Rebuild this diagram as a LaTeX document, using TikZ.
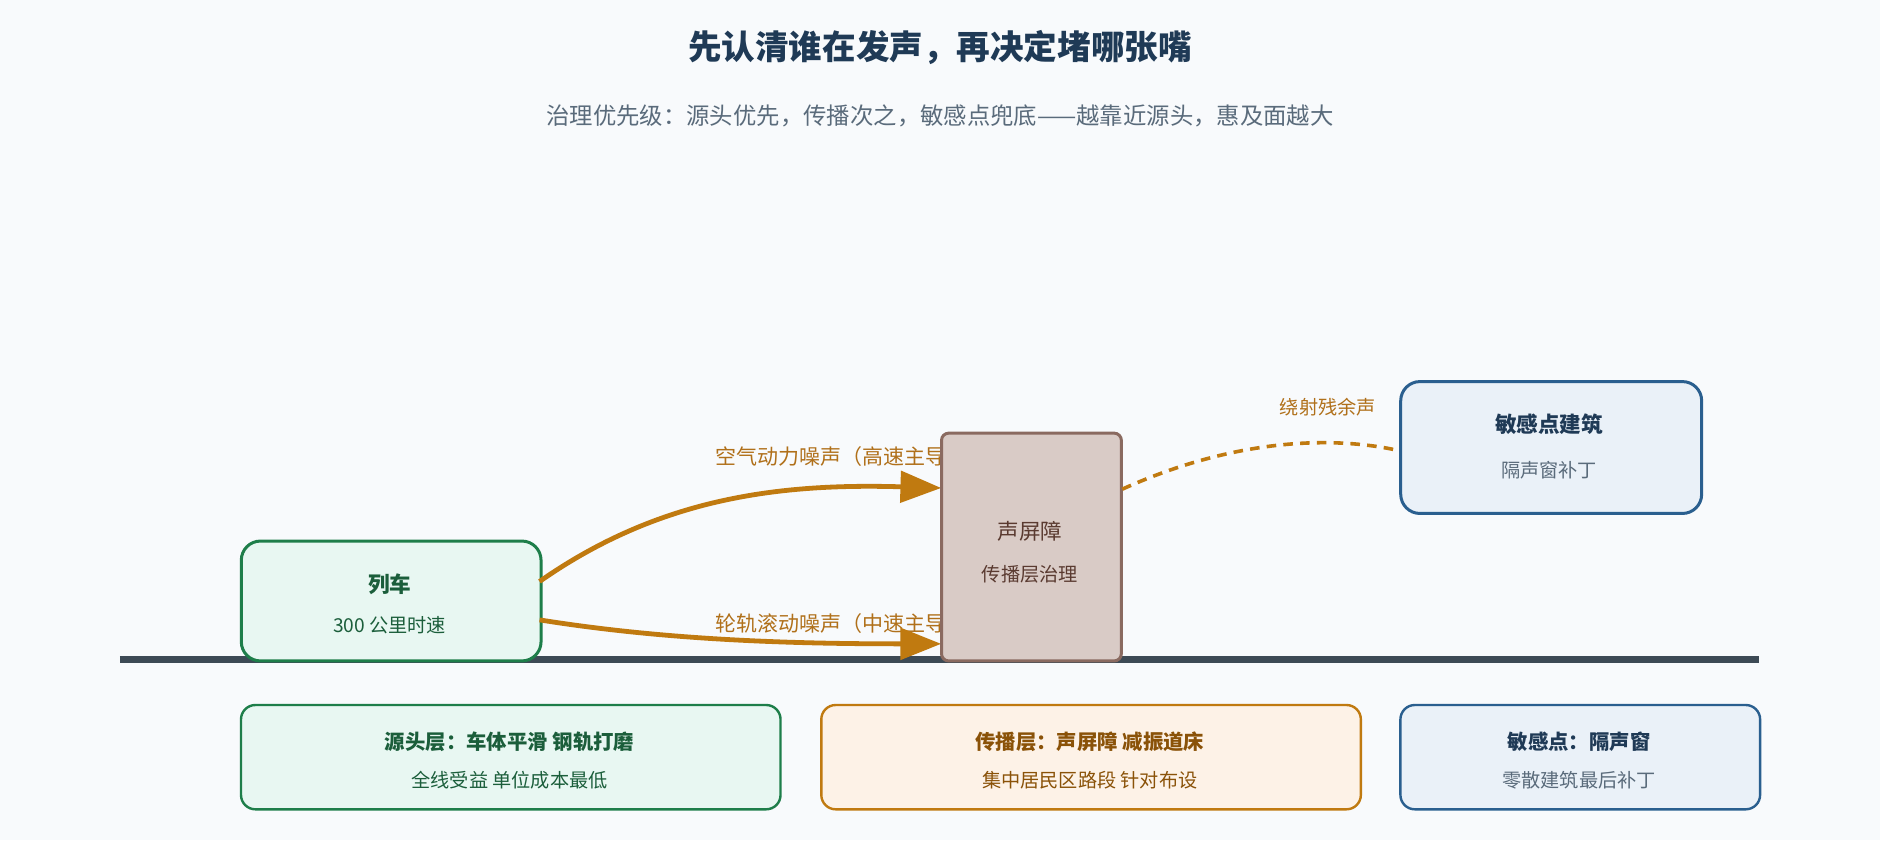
\documentclass[tikz,border=0pt]{standalone}
\usepackage{fontspec}
\setmainfont{Noto Sans CJK SC}
\usetikzlibrary{arrows.meta}
\definecolor{bg}{HTML}{F8FAFC}
\definecolor{ttl}{HTML}{1F3A56}
\definecolor{sub}{HTML}{5A6B7B}
\definecolor{gnd}{HTML}{3D4A55}
\definecolor{gS}{HTML}{1E7E4A}\definecolor{gF}{HTML}{E8F7F2}\definecolor{gT}{HTML}{1B5E3B}
\definecolor{oS}{HTML}{C07A10}\definecolor{oF}{HTML}{FDF2E7}\definecolor{oT}{HTML}{8A5208}
\definecolor{bS}{HTML}{2A5F8F}\definecolor{bF}{HTML}{EAF1F8}\definecolor{bT}{HTML}{1F3A56}
\definecolor{rS}{HTML}{8A6A60}\definecolor{rF}{HTML}{D9CBC6}\definecolor{rT}{HTML}{5A3A30}
\definecolor{lab}{HTML}{B0701A}
\begin{document}
\begin{tikzpicture}[x=1pt,y=-1pt,
 box/.style={draw,line width=2.5pt,rounded corners=16pt,anchor=north west,inner sep=0pt},
 t/.style={font=\fontsize{18}{21}\selectfont\bfseries},
 s/.style={font=\fontsize{16}{19}\selectfont},
 lb/.style={font=\fontsize{17.5}{20}\selectfont},
 arr/.style={oS,line width=4pt,-{Triangle[length=34pt,width=26pt]}}]
\fill[bg] (0,0) rectangle (1568,701);
\useasboundingbox (0,0) rectangle (1568,701);
\node[ttl,font=\fontsize{28}{32}\selectfont\bfseries] (title) at (784,40) {先认清谁在发声，再决定堵哪张嘴};
\node[sub,font=\fontsize{19.5}{23}\selectfont] (subtitle) at (784,97) {治理优先级：源头优先，传播次之，敏感点兜底——越靠近源头，惠及面越大};
\draw[gnd,line width=6pt] (100,550) coordinate (g1) -- (1467,550) coordinate (g2);
% labels (partly hidden behind barrier)
\node[lab,lb,anchor=west] (l1) at (593,381) {空气动力噪声（高速主导）};
\node[lab,lb,anchor=west] (l2) at (593,520) {轮轨滚动噪声（中速主导）};
\node[lab,s,anchor=east] (l3) at (1151,340) {绕射残余声};
% train
\node[box,draw=gS,fill=gF,minimum width=250pt,minimum height=100pt] (train) at (200,450) {};
\node[gT,t] (trainT) at (325,487) {列车};
\node[gT,s] (trainS) at (325,521) {300 公里时速};
% arrows
\coordinate (a1) at (450,485); \coordinate (b1) at (785,407);
\coordinate (a2) at (450,517); \coordinate (b2) at (785,537);
\draw[arr] (a1) .. controls (550,415) and (650,403) .. (b1);
\draw[arr] (a2) .. controls (550,533) and (650,537) .. (b2);
% barrier
\node[draw=rS,fill=rF,line width=2.5pt,rounded corners=6pt,anchor=north west,minimum width=150pt,minimum height=190pt,inner sep=0pt] (barrier) at (784,360) {};
\node[rT,font=\fontsize{18}{21}\selectfont] (barT) at (859,443) {声屏障};
\node[rT,s] (barS) at (859,479) {传播层治理};
% building
\node[box,draw=bS,fill=bF,minimum width=251pt,minimum height=110pt] (bld) at (1167,317) {};
\node[bT,t] (bldT) at (1292,354) {敏感点建筑};
\node[sub,s] (bldS) at (1292,392) {隔声窗补丁};
\coordinate (d1) at (936,408); \coordinate (d2) at (1163,375);
\draw[oS,line width=3pt,dash pattern=on 8pt off 6pt] (d1) .. controls (1020,370) and (1100,362) .. (d2);
% bottom boxes
\node[box,draw=gS,fill=gF,line width=2pt,rounded corners=12pt,minimum width=450pt,minimum height=87pt] (b1box) at (200,587) {};
\node[gT,t,font=\fontsize{17}{20}\selectfont\bfseries] at (425,619) {源头层：车体平滑 钢轨打磨};
\node[gT,s] at (425,651) {全线受益 单位成本最低};
\node[box,draw=oS,fill=oF,line width=2pt,rounded corners=12pt,minimum width=450pt,minimum height=87pt] (b2box) at (684,587) {};
\node[oT,t,font=\fontsize{17}{20}\selectfont\bfseries] at (909,619) {传播层：声屏障 减振道床};
\node[oT,s] at (909,651) {集中居民区路段 针对布设};
\node[box,draw=bS,fill=bF,line width=2pt,rounded corners=12pt,minimum width=300pt,minimum height=87pt] (b3box) at (1167,587) {};
\node[bT,t,font=\fontsize{17}{20}\selectfont\bfseries] at (1317,619) {敏感点：隔声窗};
\node[sub,s] at (1317,651) {零散建筑最后补丁};
\end{tikzpicture}
\end{document}
